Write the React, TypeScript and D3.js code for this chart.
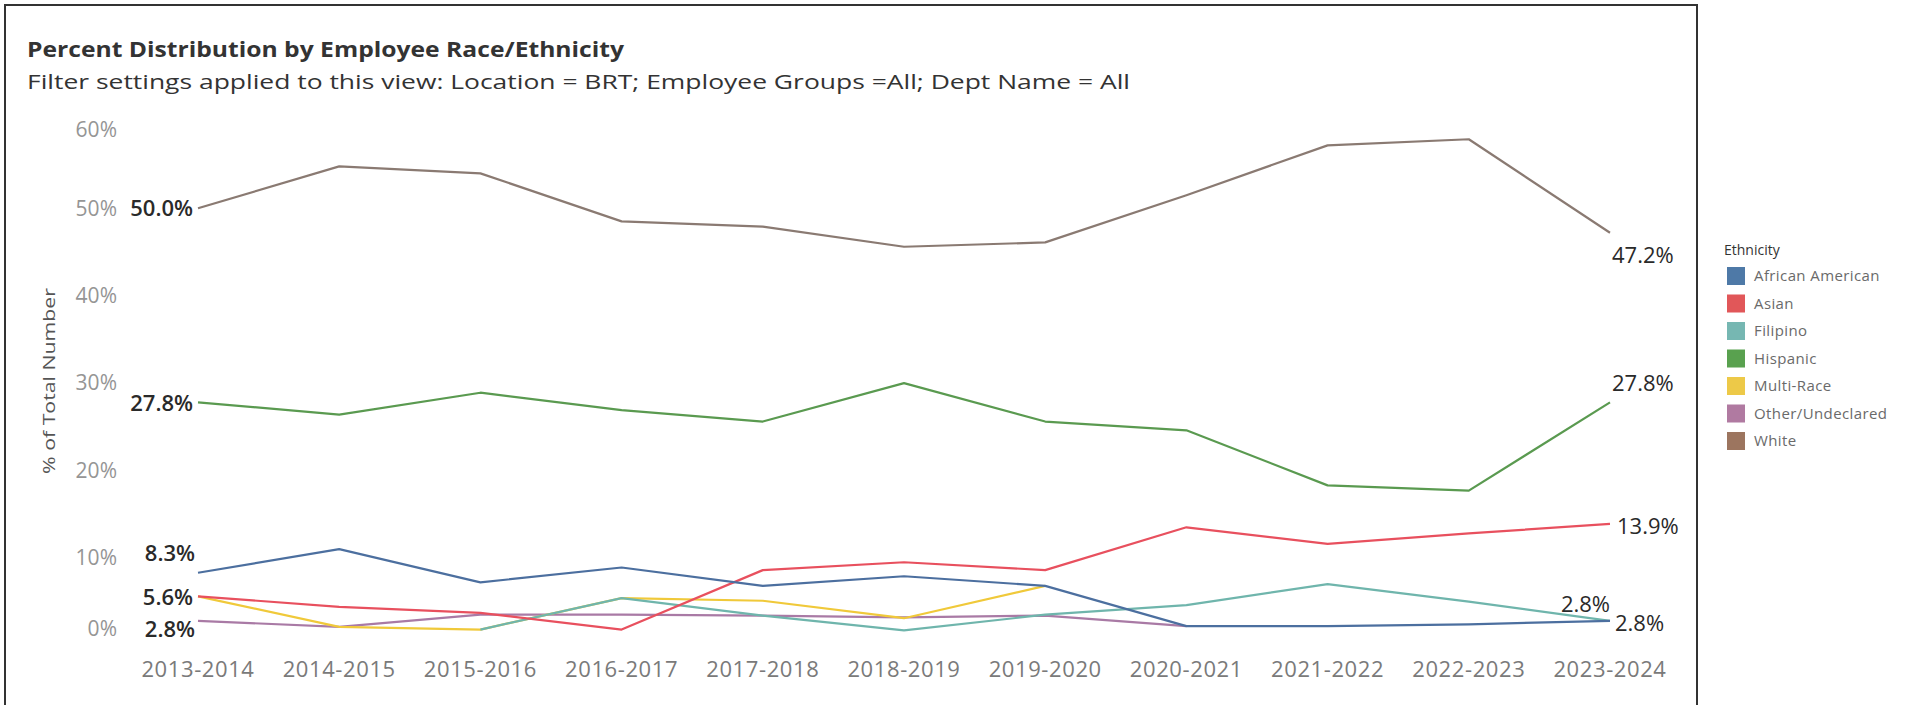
import React from "react";
import * as d3 from "d3";

const categories = [
  "2013-2014", "2014-2015", "2015-2016", "2016-2017", "2017-2018", "2018-2019",
  "2019-2020", "2020-2021", "2021-2022", "2022-2023", "2023-2024",
];

const africanAmerican = [8.3, 11.0, 7.2, 8.9, 6.8, 7.9, 6.8, 2.2, 2.2, 2.4, 2.8];
const asian = [5.6, 4.4, 3.7, 1.8, 8.6, 9.5, 8.6, 13.5, 11.6, 12.8, 13.9];
const filipino = [null, null, 1.8, 5.4, 3.4, 1.7, 3.5, 4.6, 7.0, 5.0, 2.8];
const hispanic = [27.8, 26.4, 28.9, 26.9, 25.6, 30.0, 25.6, 24.6, 18.3, 17.7, 27.8];
const multiRace = [5.6, 2.1, 1.8, 5.4, 5.1, 3.1, 6.8, null, null, null, null];
const otherUndeclared = [2.8, 2.1, 3.5, 3.5, 3.4, 3.2, 3.4, 2.2, null, null, null];
const white = [50.0, 54.8, 54.0, 48.5, 47.9, 45.6, 46.1, 51.5, 57.2, 57.9, 47.2];

const seriesNames = [
  "African American", "Asian", "Filipino", "Hispanic", "Multi-Race", "Other/Undeclared", "White",
];
const seriesValues = [africanAmerican, asian, filipino, hispanic, multiRace, otherUndeclared, white];
const seriesColors = ["#4e79a7", "#e15759", "#76b7b2", "#59a14f", "#edc948", "#b07aa1", "#9c755f"];
const lineColors = ["#4c6f9f", "#e8505e", "#6fb5ac", "#5a9a50", "#f0c93a", "#a97aa5", "#8a7a72"];

const yTicks = [0, 10, 20, 30, 40, 50, 60];

const title = "Percent Distribution by Employee Race/Ethnicity";
const subtitle =
  "Filter settings applied to this view: Location = BRT; Employee Groups =All; Dept Name = All";
const yAxisTitle = "% of Total Number";
const legendTitle = "Ethnicity";

const startLabels: [number, number, number][] = [
  [6, -5, 0],
  [3, -5, 1],
  [0, -3, -19],
  [1, -5, 1],
  [5, -3, 8],
];
const endLabels: [number, number, number, string][] = [
  [6, 2, 23, "start"],
  [3, 2, -19, "start"],
  [1, 7, 2, "start"],
  [2, 0, -17, "end"],
  [0, 5, 2, "start"],
];

const FONT = "'Open Sans', 'Noto Sans', sans-serif";

export default function App() {
  const x = d3.scalePoint<string>().domain(categories).range([198, 1610]);
  const y = d3.scaleLinear().domain([0, 60]).range([645.3, 120.9]);
  const paneTop = 121;
  const paneBottom = 638;

  const line = d3
    .line<number | null>()
    .defined((d) => d != null)
    .x((_, i) => x(categories[i]) as number)
    .y((d) => y(d as number));

  const drawOrder = [6, 3, 5, 4, 2, 1, 0];
  const last = categories.length - 1;

  return (
    <svg
      width={1915}
      height={705}
      style={{ position: "absolute", left: 0, top: 0, background: "#fff" }}
      fontFamily={FONT}
    >
      <rect x={0} y={0} width={1915} height={705} fill="#fff" />
      <rect x={5} y={5} width={1692} height={760} fill="none" stroke="#333" strokeWidth={2} />

      <text x={27} y={57} fontSize={22} fontWeight={700} fill="#333" textLength={597} lengthAdjust="spacingAndGlyphs">
        {title}
      </text>
      <text x={27} y={89} fontSize={20} fill="#333" textLength={1103} lengthAdjust="spacingAndGlyphs">
        {subtitle}
      </text>

      <text
        transform={`translate(49, 381) rotate(-90)`}
        textAnchor="middle"
        dy="0.35em"
        fontSize={17}
        fill="#555"
        textLength={186}
        lengthAdjust="spacingAndGlyphs"
      >
        {yAxisTitle}
      </text>

      {yTicks.map((t) => {
        const cy = Math.min(Math.max(y(t), paneTop + 9), paneBottom - 9);
        return (
          <text key={t} x={117} y={cy} dy="0.35em" textAnchor="end" fontSize={21} fill="#959595">
            {t}%
          </text>
        );
      })}

      {categories.map((c) => (
        <text
          key={c}
          x={x(c) as number}
          y={669}
          dy="0.35em"
          textAnchor="middle"
          fontSize={22}
          letterSpacing={0.6}
          fill="#7a7a7a"
        >
          {c}
        </text>
      ))}

      {drawOrder.map((si) => (
        <path
          key={seriesNames[si]}
          d={line(seriesValues[si]) || ""}
          fill="none"
          stroke={lineColors[si]}
          strokeWidth={2.2}
          strokeLinejoin="round"
        />
      ))}

      {startLabels.map(([si, dx, dy], k) => {
        const v = seriesValues[si][0] as number;
        return (
          <text
            key={"s" + k}
            x={(x(categories[0]) as number) + dx}
            y={y(v) + dy}
            dy="0.35em"
            textAnchor="end"
            fontSize={22}
            fontWeight={600}
            fill="#2a2a2a"
          >
            {v.toFixed(1)}%
          </text>
        );
      })}

      {endLabels.map(([si, dx, dy, anchor], k) => {
        const v = seriesValues[si][last] as number;
        return (
          <text
            key={"e" + k}
            x={(x(categories[last]) as number) + dx}
            y={y(v) + dy}
            dy="0.35em"
            textAnchor={anchor}
            fontSize={22}
            fill="#2a2a2a"
          >
            {v.toFixed(1)}%
          </text>
        );
      })}

      <text x={1724} y={250} dy="0.35em" fontSize={14} fill="#333">
        {legendTitle}
      </text>
      {seriesNames.map((n, i) => {
        const cy = 276 + i * 27.5;
        return (
          <g key={n}>
            <rect x={1727} y={cy - 9} width={18} height={18} fill={seriesColors[i]} />
            <text x={1754} y={cy} dy="0.35em" fontSize={15} letterSpacing={0.4} fill="#6a6a6a">
              {n}
            </text>
          </g>
        );
      })}
    </svg>
  );
}
